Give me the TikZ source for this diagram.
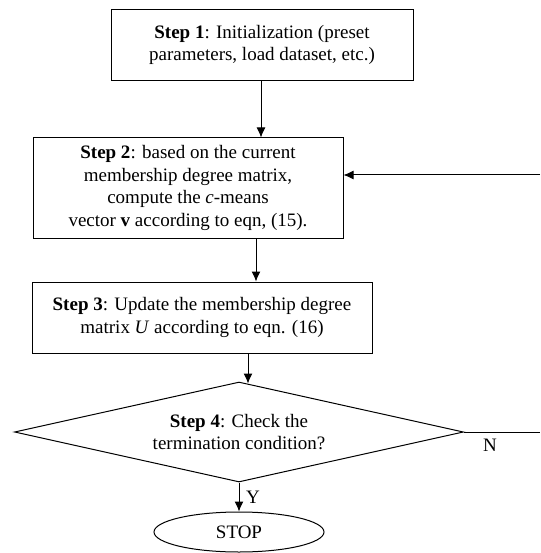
\documentclass[tikz,border=0pt]{standalone}
\usepackage{fontspec}
\setmainfont{Liberation Serif}
\usetikzlibrary{arrows.meta,shapes.geometric,calc}
\begin{document}
\begin{tikzpicture}[x=1pt,y=-1pt,
  every node/.style={font=\fontsize{19}{22.5}\selectfont, align=center, inner sep=0pt},
  stepbox/.style={draw, line width=1pt, rectangle},
  arr/.style={-{Latex[length=10pt,width=9pt]}, line width=1pt},
  ln/.style={line width=1pt}]
\useasboundingbox (0,0) rectangle (540,553);
\node[stepbox, minimum width=302pt, minimum height=71pt] (box1) at (262,45)
  {\textbf{Step 1}: Initialization (preset\\parameters, load dataset, etc.)};
\node[stepbox, minimum width=310pt, minimum height=100pt] (box2) at (188,188)
  {\textbf{Step 2}: based on the current\\membership degree matrix,\\compute the \textit{c}-means\\vector \textbf{v} according to eqn, (15).};
\node[stepbox, minimum width=340pt, minimum height=71pt] (box3) at (202,317.5)
  {\textbf{Step 3}: Update the membership degree\\matrix \textit{U} according to eqn. (16)};
\node[draw, line width=1pt, diamond, shape aspect=4.49, minimum width=449pt, minimum height=100pt] (dia) at (239,432)
  {\textbf{Step 4}: Check the\\termination condition?};
\node[draw, line width=1pt, ellipse, minimum width=170pt, minimum height=40pt] (stop) at (239,532) {STOP};
\coordinate (a1) at ($(box1.south)+(-1,0)$);
\draw[arr] (a1) -- (a1 |- box2.north);
\coordinate (a2) at ($(box2.south)+(68,0)$);
\draw[arr] (a2) -- (a2 |- box3.north);
\coordinate (a3) at ($(box3.south)+(46,0)$);
\draw[arr] (a3) -- ($(a3 |- dia.north)+(0,2)$);
\coordinate (ne) at (540,432);
\draw[ln] (dia.east) -- (ne);
\node (N) at (490,445) {N};
\coordinate (fb) at (540,175);
\draw[arr] (fb) -- (fb -| box2.east);
\draw[arr] (dia.south) -- (stop.north);
\node (Y) at (253,497) {Y};
\end{tikzpicture}
\end{document}
